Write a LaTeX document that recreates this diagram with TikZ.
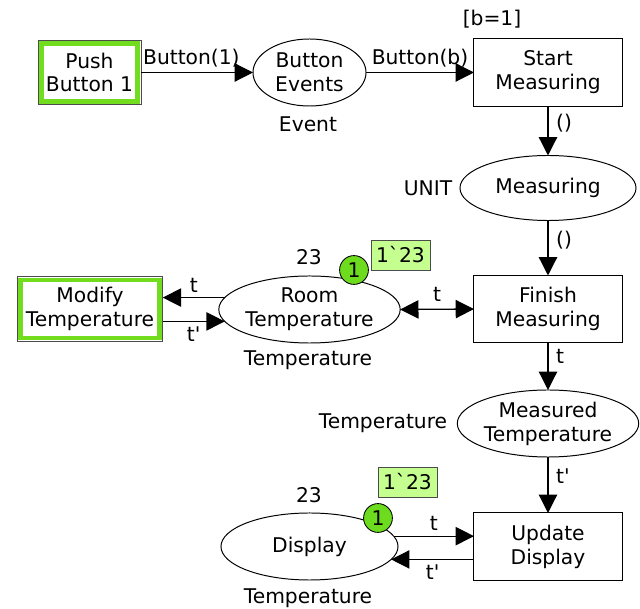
\documentclass[tikz,border=0pt]{standalone}
\usepackage{fontspec}
\setmainfont{DejaVu Sans}
\usepackage{tikz}
\usetikzlibrary{shapes,arrows,positioning,calc,arrows.meta}

\definecolor{fusegreen}{HTML}{72DC1E}
\definecolor{tokgreen}{HTML}{6EDC1E}
\definecolor{markgreen}{HTML}{C4FF90}

\tikzset{
    place/.style={ellipse, draw, line width=0.7pt, inner sep=0pt, outer sep=0pt},
    trans/.style={rectangle, draw, line width=0.7pt, align=center, minimum width=3.7cm, minimum height=1.675cm, outer sep=0pt},
    fused/.style={rectangle, draw=fusegreen, line width=3.4pt, align=center, minimum height=1.45cm, outer sep=2.3pt},
    arc/.style={line width=0.9pt, -{Triangle[length=13pt,width=13pt]}},
    biarc/.style={line width=0.9pt, {Triangle[length=13pt,width=13pt]}-{Triangle[length=13pt,width=13pt]}},
    token/.style={circle, draw, fill=tokgreen, line width=0.6pt, minimum size=0.72cm, inner sep=0pt},
    marking/.style={rectangle, draw=black!70, fill=markgreen, line width=0.6pt, minimum width=1.475cm, minimum height=0.75cm, inner sep=1pt}
}

\begin{document}
\begin{tikzpicture}[x=0.025cm, y=-0.025cm, font=\fontsize{14.4}{17}\selectfont]
    \useasboundingbox (0,0) rectangle (640,609);

    % Top row
    \node [fused, minimum width=2.2cm] (push) at (89.5,72.5) {Push\\Button 1};
    \draw [line width=0.7pt, black!70] (push.north west) rectangle (push.south east);
    \node [place, minimum width=2.825cm, minimum height=1.675cm, align=center] (btnev) at (309.5,72.5) {Button\\Events};
    \node (btnevtype) at (308,124) {Event};
    \node [trans] (start) at (548,72.5) {Start\\Measuring};
    \node (guard) at (492,19) {[b=1]};

    \draw [arc] (push.east) -- node[above, pos=0.45] (lblpush) {Button(1)} (btnev.west);
    \draw [arc] (btnev.east) -- node[above, pos=0.5] (lblbtn) {Button(b)} (start.west);

    % Measuring
    \node [place, minimum width=4.4cm, minimum height=1.625cm] (meas) at (548,188) {Measuring};
    \node (meastype) at (428,188) {UNIT};
    \draw [arc] (start.south) -- node[right=2pt, pos=0.35] (lblstart) {()} (meas.north);

    \node [trans] (finish) at (548,309) {Finish\\Measuring};
    \draw [arc] (meas.south) -- node[right=2pt, pos=0.35] (lblmeas) {()} (finish.north);

    % Room temperature
    \node [place, minimum width=4.425cm, minimum height=1.675cm, align=center] (room) at (309.5,309.5) {Room\\Temperature};
    \node (roomtype) at (308,360) {Temperature};
    \node (roominit) at (309,257) {23};
    \node [token] (roomtok) at (354,270) {1};
    \node [marking] (roommark) at (400.5,255) {1\textasciigrave23};
    \draw [biarc] (room.east) -- node[above=2pt] (lblroom) {t} (finish.west);

    \node [fused, minimum width=3.475cm] (modify) at (90,309) {Modify\\Temperature};
    \draw [line width=0.7pt, black!70] (modify.north west) rectangle (modify.south east);
    \draw [arc] (room.172) -- node[above] (lblmodt) {t} (room.172 -| modify.east);
    \draw [arc] (room.188 -| modify.east) -- node[below] (lblmodtt) {t\textquotesingle} (room.188);

    % Measured temperature
    \node [place, minimum width=4.4cm, minimum height=1.675cm, align=center] (mtemp) at (548,423.5) {Measured\\Temperature};
    \node (mtemptype) at (383,423) {Temperature};
    \draw [arc] (finish.south) -- node[right=2pt, pos=0.3] (lblfin) {t} (mtemp.north);

    \node [trans] (update) at (548,546.5) {Update\\Display};
    \draw [arc] (mtemp.south) -- node[right=2pt, pos=0.35] (lblmt) {t\textquotesingle} (update.north);

    % Display
    \node [place, minimum width=4.425cm, minimum height=1.675cm] (display) at (309.5,546.5) {Display};
    \node (disptype) at (308,598) {Temperature};
    \node (dispinit) at (309,495) {23};
    \node [token] (disptok) at (378,518) {1};
    \node [marking] (dispmark) at (407.5,482) {1\textasciigrave23};
    \draw [arc] (display.7) -- node[above] (lbldispt) {t} (display.7 -| update.west);
    \draw [arc] (display.351 -| update.west) -- node[below] (lbldisptt) {t\textquotesingle} (display.351);
\end{tikzpicture}
\end{document}
